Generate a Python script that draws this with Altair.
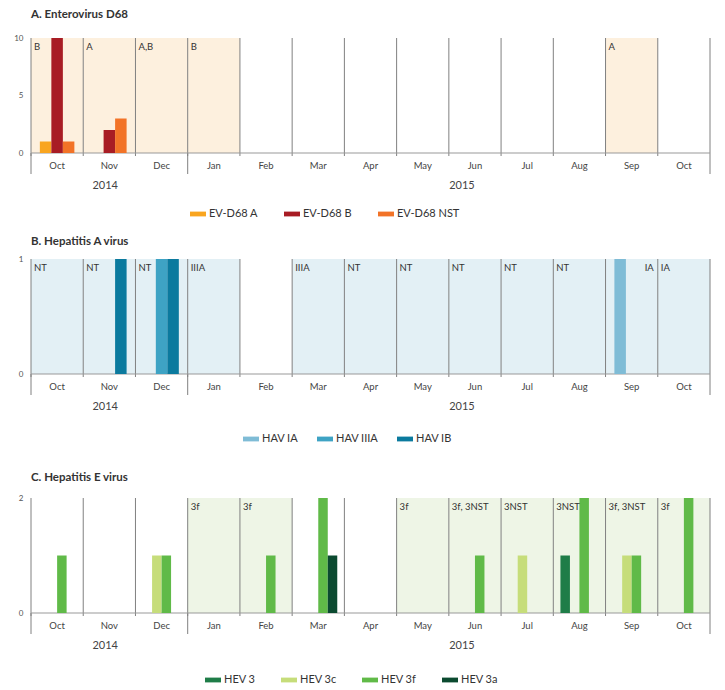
import altair as alt
import pandas as pd

months = ["Oct 2014", "Nov 2014", "Dec 2014", "Jan 2015", "Feb 2015", "Mar 2015",
          "Apr 2015", "May 2015", "Jun 2015", "Jul 2015", "Aug 2015", "Sep 2015", "Oct 2015"]
month_labels = ["Oct", "Nov", "Dec", "Jan", "Feb", "Mar", "Apr", "May", "Jun", "Jul",
                "Aug", "Sep", "Oct"]
year_labels = ["2014", "2015"]
year_anchor_months = ["Nov 2014", "Jun 2015"]
year_start_months = ["Oct 2014", "Jan 2015"]

# Panel A: Enterovirus D68
a_categories = ["EV-D68 A", "EV-D68 B", "EV-D68 NST"]
a_colors = ["#f9a51f", "#a81c24", "#f27327"]
a_bar_months = ["Oct 2014", "Oct 2014", "Oct 2014", "Nov 2014", "Nov 2014"]
a_bar_types = ["EV-D68 A", "EV-D68 B", "EV-D68 NST", "EV-D68 B", "EV-D68 NST"]
a_bar_counts = [1, 10, 1, 2, 3]
a_shade_months = ["Oct 2014", "Nov 2014", "Dec 2014", "Jan 2015", "Sep 2015"]
a_shade_labels = ["B", "A", "A,B", "B", "A"]

# Panel B: Hepatitis A virus
b_categories = ["HAV IA", "HAV IIIA", "HAV IB"]
b_colors = ["#7fbcd6", "#3ea3c4", "#0b7a9e"]
b_bar_months = ["Nov 2014", "Dec 2014", "Dec 2014", "Sep 2015"]
b_bar_types = ["HAV IB", "HAV IIIA", "HAV IB", "HAV IA"]
b_bar_counts = [1, 1, 1, 1]
b_shade_months = ["Oct 2014", "Nov 2014", "Dec 2014", "Jan 2015", "Mar 2015", "Apr 2015",
                  "May 2015", "Jun 2015", "Jul 2015", "Aug 2015", "Sep 2015", "Oct 2015"]
b_shade_labels = ["NT", "NT", "NT", "IIIA", "IIIA", "NT", "NT", "NT", "NT", "NT", "IA", "IA"]
b_right_label_months = ["Sep 2015"]

# Panel C: Hepatitis E virus
c_categories = ["HEV 3", "HEV 3c", "HEV 3f", "HEV 3a"]
c_colors = ["#1f7d48", "#c6dd7a", "#60ba48", "#0b4a30"]
c_bar_months = ["Oct 2014", "Dec 2014", "Dec 2014", "Feb 2015", "Mar 2015", "Mar 2015",
                "Jun 2015", "Jul 2015", "Aug 2015", "Aug 2015", "Sep 2015", "Sep 2015", "Oct 2015"]
c_bar_types = ["HEV 3f", "HEV 3c", "HEV 3f", "HEV 3f", "HEV 3f", "HEV 3a",
               "HEV 3f", "HEV 3c", "HEV 3", "HEV 3f", "HEV 3c", "HEV 3f", "HEV 3f"]
c_bar_counts = [1, 1, 1, 1, 2, 1, 1, 1, 1, 2, 1, 1, 2]
c_shade_months = ["Jan 2015", "Feb 2015", "May 2015", "Jun 2015", "Jul 2015", "Aug 2015",
                  "Sep 2015", "Oct 2015"]
c_shade_labels = ["3f", "3f", "3f", "3f, 3NST", "3NST", "3NST", "3f, 3NST", "3f"]

W, H = 679, 115
FONT = "Lato"
GRID = "#808080"


def panel(title, cats, colors, bm, bt, bn, sm, sl, shade_color, ymax, yticks,
          pad_outer, leg_x, leg_y, col_pad, title_offset, leg_pad=0, right_months=()):
    bars = pd.DataFrame({"m": bm, "t": bt, "n": bn})
    shade = pd.DataFrame({"m": sm, "label": sl})
    shade["side"] = ["right" if m in right_months else "left" for m in sm]
    bounds = pd.DataFrame({"m": months, "lab": month_labels})
    years = pd.DataFrame({"m": year_anchor_months, "y": year_labels})
    ystarts = pd.DataFrame({"m": year_start_months})
    endm = pd.DataFrame({"m": [months[-1]]})

    xscale = alt.Scale(domain=months, paddingInner=0, paddingOuter=0)

    def xb(bp):
        return alt.X("m:N", scale=xscale, bandPosition=bp, axis=None)

    shading = alt.Chart(shade).mark_rect(color=shade_color).encode(
        x=alt.X("m:N", scale=xscale, axis=None), y=alt.value(0), y2=alt.value(H))

    grid = alt.Chart(bounds).mark_rule(color=GRID, strokeWidth=1).encode(
        x=xb(0), y=alt.value(0), y2=alt.value(H))
    small_ticks = alt.Chart(bounds).mark_rule(color=GRID, strokeWidth=1).encode(
        x=xb(0), y=alt.value(H), y2=alt.value(H + 3))
    year_lines = alt.Chart(ystarts).mark_rule(color=GRID, strokeWidth=1).encode(
        x=xb(0), y=alt.value(H), y2=alt.value(H + 21))
    end_line = alt.Chart(endm).mark_rule(color=GRID, strokeWidth=1).encode(
        x=xb(1), y=alt.value(0), y2=alt.value(H + 21))
    zero_line = alt.Chart(endm).mark_rule(color="#999", strokeWidth=1).encode(
        x=alt.value(0), x2=alt.value(W), y=alt.value(H))

    month_text = alt.Chart(bounds).mark_text(
        fontSize=9.5, color="#444", font=FONT, baseline="middle"
    ).encode(x=xb(0.5), y=alt.value(H + 13), text="lab:N")

    bar_layer = alt.Chart(bars).mark_bar().encode(
        x=alt.X("m:N", scale=xscale, axis=None),
        xOffset=alt.XOffset("t:N", scale=alt.Scale(domain=cats, paddingOuter=pad_outer,
                                                   paddingInner=0)),
        y=alt.Y("n:Q", scale=alt.Scale(domain=[0, ymax], nice=False),
                axis=alt.Axis(values=yticks, format="d", title=None, grid=False,
                              ticks=False, domain=False, labelFontSize=8,
                              labelColor="#555", labelFont=FONT, labelPadding=8)),
        color=alt.Color("t:N", scale=alt.Scale(domain=cats, range=colors),
                        legend=alt.Legend(orient="none", legendX=leg_x, legendY=leg_y,
                                          direction="horizontal", title=None,
                                          symbolType="M-1,-0.3H1V0.3H-1Z", symbolSize=256,
                                          symbolStrokeWidth=0, labelFontSize=11,
                                          labelFont=FONT, labelColor="#333",
                                          labelOffset=3, columnPadding=col_pad,
                                          padding=leg_pad)),
    )

    left_text = alt.Chart(shade).transform_filter(alt.datum.side == "left").mark_text(
        align="left", baseline="top", dx=3, dy=4, fontSize=9.5, color="#333", font=FONT
    ).encode(x=xb(0), y=alt.value(0), text="label:N")
    right_text = alt.Chart(shade).transform_filter(alt.datum.side == "right").mark_text(
        align="right", baseline="top", dx=-4, dy=4, fontSize=9.5, color="#333", font=FONT
    ).encode(x=xb(1), y=alt.value(0), text="label:N")

    y14 = alt.Chart(years).transform_filter(alt.datum.y == "2014").mark_text(
        fontSize=11, color="#444", font=FONT, baseline="middle"
    ).encode(x=xb(0.42), y=alt.value(H + 33), text="y:N")
    y15 = alt.Chart(years).transform_filter(alt.datum.y == "2015").mark_text(
        fontSize=11, color="#444", font=FONT, baseline="middle"
    ).encode(x=xb(0.25), y=alt.value(H + 33), text="y:N")

    return alt.layer(shading, grid, small_ticks, year_lines, end_line, zero_line,
                     bar_layer, month_text, left_text, right_text, y14, y15).properties(
        width=W, height=H,
        title=alt.TitleParams(title, anchor="start", frame="group", fontSize=11.5,
                              font=FONT, fontWeight="bold", color="#333",
                              offset=title_offset))


pa = panel("A. Enterovirus D68", a_categories, a_colors, a_bar_months, a_bar_types,
           a_bar_counts, a_shade_months, a_shade_labels, "#fdf0de", 10, [0, 5, 10],
           0.77, 159, 168, 26, 14)
pb = panel("B. Hepatitis A virus", b_categories, b_colors, b_bar_months, b_bar_types,
           b_bar_counts, b_shade_months, b_shade_labels, "#e3f0f5", 1, [0, 1],
           0.77, 201, 161, 18, 8, leg_pad=11, right_months=b_right_label_months)
pc = panel("C. Hepatitis E virus", c_categories, c_colors, c_bar_months, c_bar_types,
           c_bar_counts, c_shade_months, c_shade_labels, "#eef5e6", 2, [0, 1, 2],
           0.75, 174, 174, 25, 11)

chart = alt.vconcat(pa, pb, pc, spacing=16).resolve_scale(
    color="independent", xOffset="independent", y="independent"
).properties(padding={"left": 5, "top": 0, "right": 5, "bottom": 5}).configure_view(stroke=None)

chart.save("out.html", embed_options={"renderer": "svg", "actions": False})
